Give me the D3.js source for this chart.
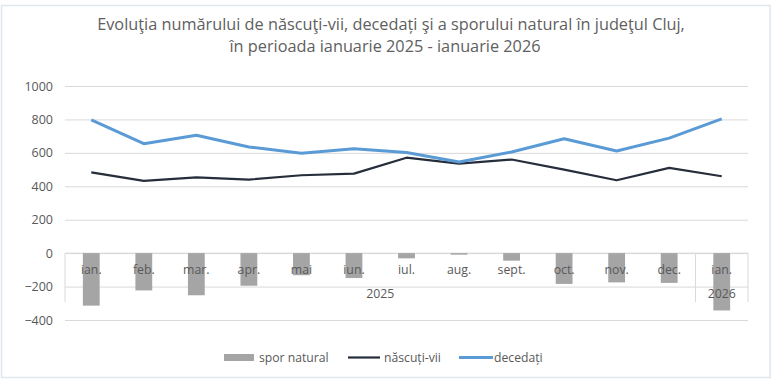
<!DOCTYPE html>
<html>
<head>
<meta charset="utf-8">
<title>Cluj 2025-2026</title>
<script src="https://d3js.org/d3.v7.min.js"></script>
<style>
  body { margin: 0; background: #fff; }
  text { font-family: "Open Sans", sans-serif; fill: #595959; }
</style>
</head>
<body>
<div id="chart"></div>
<script>
const width = 776;
const height = 389;

// data
const months = ["ian.", "feb.", "mar.", "apr.", "mai", "iun.", "iul.", "aug.", "sept.", "oct.", "nov.", "dec.", "ian."];
const years = [{label: "2025", from: 0, to: 11}, {label: "2026", from: 12, to: 12}];
const sporNatural = [-314, -223, -252, -195, -132, -149, -31, -9, -45, -184, -175, -178, -343];
const nascutiVii = [483, 432, 453, 440, 466, 476, 571, 536, 560, 500, 436, 510, 460];
const decedati = [797, 655, 705, 635, 598, 625, 602, 545, 605, 684, 611, 688, 803];
const yTicks = [-400, -200, 0, 200, 400, 600, 800, 1000];

const margin = {left: 65, right: 28, top: 86, bottom: 69};

var svg = d3.select("#chart").append("svg").attr("width", width).attr("height", height);

// light frame
svg.append("rect").attr("x", 1.5).attr("y", 5.5).attr("width", 768.5).attr("height", 372)
  .attr("fill", "none").attr("stroke", "#dfe6ee").attr("stroke-width", 1.5);

var x = d3.scaleBand().domain(d3.range(months.length))
  .range([margin.left, width - margin.right]).paddingInner(0.68).paddingOuter(0.34);
var y = d3.scaleLinear().domain([-400, 1000]).range([320, 86]);

// title
var title = svg.append("text").attr("text-anchor", "middle").attr("font-size", 16.3).style("fill", "#606060");
title.append("tspan").attr("x", 391).attr("y", 30).text("Evoluţia numărului de născuţi-vii, decedați şi a sporului natural în judeţul Cluj,");
title.append("tspan").attr("x", 385).attr("y", 52).text("în perioada ianuarie 2025 - ianuarie 2026");

// gridlines + y labels
var yAxis = d3.axisLeft(y).tickValues(yTicks).tickFormat(d3.format("d"))
  .tickSize(-(width - margin.right - margin.left)).tickPadding(12);
var gy = svg.append("g").attr("transform", `translate(${margin.left},0)`).call(yAxis);
gy.select(".domain").remove();
gy.selectAll(".tick line").attr("stroke", "#d9d9d9");
gy.selectAll(".tick text").attr("font-size", 12.5).style("font-family", "'Open Sans', sans-serif").attr("fill", "#595959");

// category axis lines (two levels)
var step = x.step();
var x0 = margin.left, x1 = width - margin.right;
var axis = svg.append("g");
axis.append("line").attr("x1", x0).attr("x2", x1).attr("y1", y(0)).attr("y2", y(0)).attr("stroke", "#d9d9d9");
[0, 12, 13].forEach(function (i) {
  var xx = x0 + i * step;
  axis.append("line").attr("x1", xx).attr("x2", xx).attr("y1", y(0)).attr("y2", 302).attr("stroke", "#d9d9d9");
});

// bars
svg.append("g").selectAll("rect").data(sporNatural).enter().append("rect")
  .attr("x", (d, i) => x(i)).attr("width", x.bandwidth())
  .attr("y", d => y(Math.max(0, d))).attr("height", d => Math.abs(y(d) - y(0)))
  .attr("fill", "#a5a5a5");

// category labels
var labels = svg.append("g");
labels.selectAll(".m").data(months).enter().append("text")
  .attr("x", (d, i) => x(i) + x.bandwidth() / 2).attr("y", 274)
  .attr("text-anchor", "middle").attr("font-size", 12.3).text(d => d);
labels.selectAll(".yr").data(years).enter().append("text")
  .attr("x", d => (x(d.from) + x(d.to) + x.bandwidth()) / 2).attr("y", 298)
  .attr("text-anchor", "middle").attr("font-size", 12.3).text(d => d.label);

// lines
var cx = i => x(i) + x.bandwidth() / 2;
var line = d3.line().x((d, i) => cx(i)).y(d => y(d));
svg.append("path").datum(nascutiVii).attr("d", line).attr("fill", "none")
  .attr("stroke", "#262e3b").attr("stroke-width", 2.2).attr("stroke-linejoin", "round");
svg.append("path").datum(decedati).attr("d", line).attr("fill", "none")
  .attr("stroke", "#5b9bd5").attr("stroke-width", 3).attr("stroke-linejoin", "round");

// legend
var lg = svg.append("g").attr("font-size", 12.2);
lg.append("rect").attr("x", 224).attr("y", 354).attr("width", 30).attr("height", 7).attr("fill", "#a5a5a5");
lg.append("text").attr("x", 259).attr("y", 362).text("spor natural");
lg.append("line").attr("x1", 348).attr("x2", 380).attr("y1", 357.5).attr("y2", 357.5).attr("stroke", "#262e3b").attr("stroke-width", 2.2);
lg.append("text").attr("x", 384).attr("y", 362).text("născuți-vii");
lg.append("line").attr("x1", 459).attr("x2", 493).attr("y1", 357.5).attr("y2", 357.5).attr("stroke", "#5b9bd5").attr("stroke-width", 3);
lg.append("text").attr("x", 494).attr("y", 362).text("decedați");
</script>
</body>
</html>
